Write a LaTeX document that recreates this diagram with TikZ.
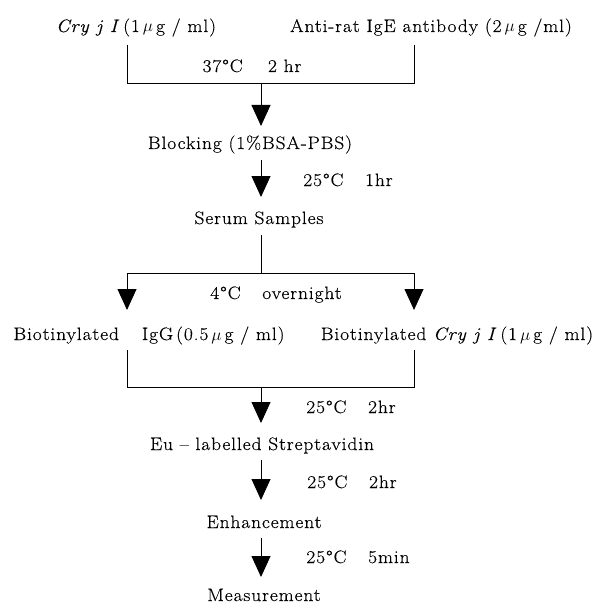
\documentclass[tikz,border=0pt]{standalone}
\usepackage{fontspec}
\setmainfont{Latin Modern Roman}[FakeStretch=1.08,LetterSpace=5,FakeBold=0.3]
\usetikzlibrary{arrows.meta}
\newcommand{\degc}{°C}
\begin{document}
\begin{tikzpicture}[x=1pt,y=-1pt,
  txt/.style={anchor=base,inner sep=0pt,font=\fontsize{18}{21}\selectfont},
  conn/.style={line width=0.9pt},
  arr/.style={line width=0.9pt,-{Triangle[length=21pt,width=19pt]}}]
\useasboundingbox (0,0) rectangle (594,604);
% texts
\node[txt] (cry) at (136,32) {\textit{Cry j I}\,(1\,$\mu$\,g / ml)};
\node[txt] (anti) at (431,32) {Anti-rat IgE antibody (2\,$\mu$\,g /ml)};
\node[txt] (t1) at (252,72) {37\degc\hspace{1.4em}2 hr};
\node[txt] (block) at (250,149) {Blocking (1\%BSA-PBS)};
\node[txt] (t2) at (348,186) {25\degc\hspace{1.2em}1hr};
\node[txt] (serum) at (259,224) {Serum Samples};
\node[txt] (t3) at (276,299) {4\degc\hspace{1.2em}overnight};
\node[txt] (bio1) at (149,340) {Biotinylated\hspace{0.9em} IgG\,(0.5\,$\mu$\,g / ml)};
\node[txt] (bio2) at (457,340) {Biotinylated \textit{Cry j I}\,(1\,$\mu$\,g / ml)};
\node[txt] (t4) at (351,413) {25\degc\hspace{1.2em}2hr};
\node[txt] (eu) at (262,450) {Eu -- labelled Streptavidin};
\node[txt] (t5) at (352,488) {25\degc\hspace{1.2em}2hr};
\node[txt] (enh) at (264,528) {Enhancement};
\node[txt] (t6) at (358,563) {25\degc\hspace{1.2em}5min};
\node[txt] (meas) at (264,601) {Measurement};
% coordinates
\coordinate (a1) at (127,45);
\coordinate (a2) at (414,45);
\coordinate (a3) at (127,83);
\coordinate (a4) at (414,83);
\coordinate (j1) at (261,83);
\coordinate (blockin) at (261,126);
\coordinate (blockout) at (261,160);
\coordinate (serumin) at (261,197);
\coordinate (serumout) at (261,235);
\coordinate (j2) at (261,273);
\coordinate (b1) at (127,273);
\coordinate (b2) at (414,273);
\coordinate (bio1in) at (127,310);
\coordinate (bio2in) at (414,310);
\coordinate (c1) at (127,350);
\coordinate (c2) at (414,350);
\coordinate (c3) at (127,387);
\coordinate (c4) at (414,387);
\coordinate (j3) at (261,387);
\coordinate (euin) at (261,423);
\coordinate (euout) at (261,460);
\coordinate (enhin) at (261,500);
\coordinate (enhout) at (261,538);
\coordinate (measin) at (261,577);
% connectors
\draw[conn] (a1) -- (a3) -- (a4) -- (a2);
\draw[arr] (j1) -- (blockin);
\draw[arr] (blockout) -- (serumin);
\draw[conn] (serumout) -- (j2);
\draw[conn] (b1) -- (b2);
\draw[arr] (b1) -- (bio1in);
\draw[arr] (b2) -- (bio2in);
\draw[conn] (c1) -- (c3) -- (c4) -- (c2);
\draw[arr] (j3) -- (euin);
\draw[arr] (euout) -- (enhin);
\draw[arr] (enhout) -- (measin);
\end{tikzpicture}
\end{document}
